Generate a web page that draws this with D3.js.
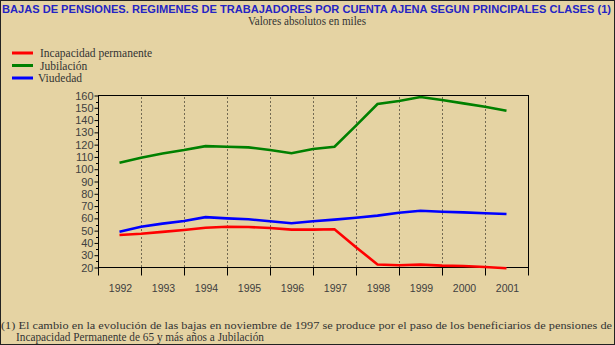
<!DOCTYPE html>
<html><head><meta charset="utf-8">
<script src="https://cdn.jsdelivr.net/npm/d3@7/dist/d3.min.js"></script>
<style>body{margin:0;background:#E5D3A3;} svg{display:block;}</style>
</head><body>
<script>
const title = "BAJAS DE PENSIONES. REGIMENES DE TRABAJADORES POR CUENTA AJENA SEGUN PRINCIPALES CLASES (1)";
const subtitle = "Valores absolutos en miles";
const years = [1992,1993,1994,1995,1996,1997,1998,1999,2000,2001];
const yTicks = [20,30,40,50,60,70,80,90,100,110,120,130,140,150,160];
const seriesNames = ["Incapacidad permanente","Jubilación","Viudedad"];
const seriesColors = ["#FF0000","#008000","#0000FF"];
const xPoints = [1992,1992.5,1993,1993.5,1994,1994.5,1995,1995.5,1996,1996.5,1997,1997.5,1998,1998.5,1999,1999.5,2000,2000.5,2001];
const incapacidad = [46.5,47.5,49.0,50.5,52.3,53.2,53.0,52.1,50.8,50.8,51.1,36.5,22.5,21.8,22.3,21.5,21.2,20.4,19.4];
const jubilacion = [105.3,109.4,112.8,115.6,118.8,118.3,117.8,115.6,113.0,116.5,118.3,135.5,153.1,155.5,158.8,156.3,153.6,150.9,147.6];
const viudedad = [49.1,53.2,55.7,57.8,61.0,60.0,59.3,57.6,56.0,57.6,59.0,60.5,62.2,64.5,66.2,65.4,64.9,64.1,63.5];
const footnote1 = "(1) El cambio en la evolución de las bajas en noviembre de 1997 se produce por el paso de los beneficiarios de pensiones de";
const footnote2 = "Incapacidad Permanente de 65 y más años a Jubilación";

const W = 615, H = 345;
const svg = d3.select("body").append("svg").attr("width", W).attr("height", H);
svg.append("rect").attr("x",0.5).attr("y",0.5).attr("width",W-1).attr("height",H-1)
  .attr("fill","#E5D3A3").attr("stroke","#222").attr("stroke-width",1);

const L = 98, R = 528, T = 95.5, B = 267.5;
const xBand = d3.scaleBand().domain(years).range([L, R]);
const x = d3.scaleLinear().domain([1991.5, 2001.5]).range([L, R]);
const y = d3.scaleLinear().domain([20, 160]).range([B, T]);

// title
svg.append("text").attr("x", 2).attr("y", 13).text(title)
  .attr("font-family","Liberation Sans, Arial, sans-serif").attr("font-weight","bold")
  .attr("font-size", 10).attr("fill","#2424C4")
  .attr("textLength", 609).attr("lengthAdjust","spacingAndGlyphs");
svg.append("text").attr("x", 307).attr("y", 25).attr("text-anchor","middle").text(subtitle)
  .attr("font-family","Liberation Serif, serif").attr("font-size", 12).attr("fill","#333")
  .attr("textLength", 118).attr("lengthAdjust","spacingAndGlyphs");

// legend
const series = [incapacidad, jubilacion, viudedad];
seriesNames.forEach((n,i)=>{
  const ly = 53 + i*12.5;
  svg.append("line").attr("x1",12).attr("x2",33).attr("y1",ly).attr("y2",ly)
    .attr("stroke",seriesColors[i]).attr("stroke-width",3);
  svg.append("text").attr("x", i===2?38:40).attr("y", ly+4).text(n)
    .attr("font-family","Liberation Serif, serif").attr("font-size", 11.5).attr("fill","#333");
});

// dotted gridlines at band boundaries
const bounds = years.slice(1).map(yr => xBand(yr));
svg.append("g").selectAll("line").data(bounds).join("line")
  .attr("x1", d=>d+0.5).attr("x2", d=>d+0.5).attr("y1", T+2).attr("y2", B)
  .attr("stroke","#000").attr("stroke-width",1).attr("stroke-dasharray","1,3");

// frame
svg.append("rect").attr("x", L+0.5).attr("y", T).attr("width", R-L).attr("height", B-T)
  .attr("fill","none").attr("stroke","#000").attr("stroke-width",1);

// y axis
const yAxis = d3.axisLeft(y).tickValues(yTicks).tickSize(4).tickFormat(d3.format("d"));
const gy = svg.append("g").attr("transform",`translate(${L+0.5},0)`).call(yAxis);
gy.select(".domain").remove();
gy.selectAll(".tick text").attr("font-family","Liberation Sans, Arial, sans-serif")
  .attr("font-size", 11).attr("fill","#404040").attr("x",-5);
gy.selectAll(".tick line").attr("stroke","#000");
const minor = d3.range(25, 160, 10);
svg.append("g").selectAll("line").data(minor).join("line")
  .attr("x1", L-2).attr("x2", L).attr("y1", d=>Math.round(y(d))+0.5).attr("y2", d=>Math.round(y(d))+0.5)
  .attr("stroke","#000");

// x axis
const gx = svg.append("g").attr("transform",`translate(0,${B})`);
gx.selectAll("line").data([L, ...bounds, R]).join("line")
  .attr("x1", d=>d+0.5).attr("x2", d=>d+0.5).attr("y1", 0).attr("y2", 8)
  .attr("stroke","#000");
gx.selectAll("text").data(years).join("text")
  .attr("x", d=>xBand(d)+xBand.bandwidth()/2+1).attr("y", 24).attr("text-anchor","middle")
  .text(d=>d).attr("font-family","Liberation Sans, Arial, sans-serif")
  .attr("font-size", 10.5).attr("fill","#404040");

// lines
const line = d3.line().x((d,i)=>x(xPoints[i])).y(d=>y(d));
[jubilacion, viudedad, incapacidad].forEach((s)=>{
  const i = series.indexOf(s);
  svg.append("path").datum(s).attr("d", line).attr("fill","none")
    .attr("stroke", seriesColors[i]).attr("stroke-width",2.6);
});

// footnote
svg.append("text").attr("x", 1).attr("y", 329).text(footnote1)
  .attr("font-family","Liberation Serif, serif").attr("font-size", 10.5).attr("fill","#333")
  .attr("textLength", 611).attr("lengthAdjust","spacingAndGlyphs");
svg.append("text").attr("x", 16).attr("y", 341).text(footnote2)
  .attr("font-family","Liberation Serif, serif").attr("font-size", 11.5).attr("fill","#333")
  .attr("textLength", 248).attr("lengthAdjust","spacingAndGlyphs");
</script>
</body></html>
